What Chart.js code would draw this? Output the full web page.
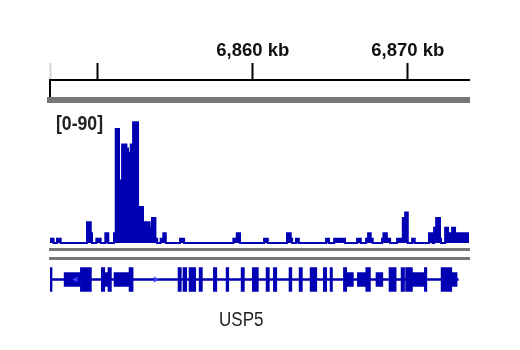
<!DOCTYPE html>
<html>
<head>
<meta charset="utf-8">
<script src="https://cdn.jsdelivr.net/npm/chart.js@4"></script>
<style>
  html, body { margin: 0; padding: 0; background: #fff; }
  #wrap { position: relative; width: 520px; height: 350px; overflow: hidden; }
  canvas { position: absolute; left: 0; }
  #ruler { top: 0; }
  #signal { top: 104px; }
  #gene { top: 250px; }
</style>
</head>
<body>
<div id="wrap">
  <canvas id="ruler" width="520" height="104"></canvas>
  <canvas id="signal" width="520" height="150"></canvas>
  <canvas id="gene" width="520" height="100"></canvas>
</div>
<script>
// visible window, kb
const xMin = 6846.92;
const xMax = 6873.95;

const rulerTicks = [6850, 6860, 6870];
const rulerLabels = ["", "6,860 kb", "6,870 kb"];

// coverage track, data range 0-90
const rangeLabel = "[0-90]";
const dataMax = 90;
const sigStart = [6846.92, 6847.37, 6849.31, 6849.55, 6849.91, 6850.49, 6851.05, 6851.16, 6851.37, 6851.57,
                  6851.85, 6851.95, 6852.13, 6852.28, 6852.60, 6852.71, 6852.92, 6853.35, 6853.50, 6853.72,
                  6854.06, 6854.23, 6855.31, 6858.75, 6858.97, 6860.73, 6862.21, 6862.45, 6862.79, 6864.73,
                  6865.25, 6866.73, 6867.31, 6867.44, 6867.61, 6868.34, 6868.43, 6868.65, 6869.31, 6869.68,
                  6869.83, 6870.28, 6871.37, 6871.70, 6871.83, 6872.08, 6872.41, 6872.60, 6872.86, 6873.05,
                  6873.44, 6873.52];
const sigEnd   = [6847.15, 6847.61, 6849.55, 6849.63, 6850.19, 6850.68, 6851.16, 6851.37, 6851.57, 6851.85,
                  6851.95, 6852.13, 6852.28, 6852.60, 6852.71, 6852.92, 6853.35, 6853.50, 6853.72, 6853.83,
                  6854.23, 6854.39, 6855.57, 6858.97, 6859.18, 6860.97, 6862.45, 6862.54, 6862.97, 6864.92,
                  6865.95, 6866.97, 6867.44, 6867.61, 6867.74, 6868.43, 6868.65, 6868.86, 6869.68, 6869.83,
                  6870.00, 6870.45, 6871.61, 6871.83, 6872.08, 6872.15, 6872.60, 6872.86, 6873.05, 6873.44,
                  6873.52, 6873.95];
const sigValue = [3, 3, 15, 7, 3, 7, 7, 82, 45, 71,
                  68, 65, 71, 87, 22, 26, 15, 11, 18, 3,
                  3, 7, 3, 3, 7, 3, 7, 3, 3, 3,
                  3, 3, 3, 7, 3, 3, 7, 3, 3, 18,
                  22, 3, 7, 11, 18, 3, 11, 7, 11, 7,
                  3, 7];

// gene model
const geneName = "USP5";
const geneEnd = 6873.26;
const nameAt = 6859.26;
const cdsStart = [6846.92, 6848.88, 6850.23, 6850.66, 6852.02, 6855.18, 6855.50, 6855.89, 6856.54, 6857.46,
                  6858.28, 6859.25, 6859.97, 6860.86, 6861.33, 6862.34, 6862.99, 6863.70, 6864.55, 6864.99,
                  6865.85, 6867.29, 6868.79, 6869.57, 6869.86, 6871.07, 6872.15];
const cdsEnd   = [6847.05, 6849.59, 6850.45, 6850.88, 6852.28, 6855.39, 6855.74, 6856.32, 6856.75, 6857.68,
                  6858.45, 6859.46, 6860.36, 6861.07, 6861.55, 6862.52, 6863.20, 6864.13, 6864.77, 6865.14,
                  6866.06, 6867.59, 6869.25, 6869.79, 6870.30, 6871.23, 6872.84];
const utrStart = [6847.83, 6850.45, 6851.05, 6866.06, 6866.75, 6867.95, 6870.30, 6872.84];
const utrEnd   = [6848.88, 6850.66, 6852.02, 6866.49, 6867.29, 6868.39, 6871.07, 6873.18];
const strandAt = [6848.58, 6853.73];
const strandDir = [-90, 90];

const blue = "#0000b2";
const sepGray = "#777777";
const sans = '"Liberation Sans", Arial, sans-serif';

Chart.defaults.font.family = sans;
const quiet = { legend: { display: false }, tooltip: { enabled: false } };
const flatAxis = (pos, width) => ({
    type: "linear", display: true, position: pos, min: xMin, max: xMax, offset: false,
    ticks: { display: false },
    grid: { display: false, drawTicks: false },
    border: { color: sepGray, width: width },
    afterFit: (s) => { s.height = 0; }
});

// condensed label text, drawn squeezed horizontally
function narrowText(ctx, text, x, y, font, squeeze, align) {
    ctx.save();
    ctx.font = font;
    ctx.fillStyle = "#222";
    ctx.textAlign = align;
    ctx.textBaseline = "alphabetic";
    ctx.translate(x, y);
    ctx.scale(squeeze, 1);
    ctx.fillText(text, 0, 0);
    ctx.restore();
}

// ruler
new Chart(document.getElementById("ruler"), {
    type: "line",
    data: { datasets: [] },
    options: {
        responsive: false,
        animation: false,
        layout: { padding: { left: 50, right: 51, top: 0, bottom: 4 } },
        plugins: quiet,
        scales: {
            x: {
                type: "linear", position: "top", min: xMin, max: xMax,
                afterBuildTicks: (s) => { s.ticks = [xMin, ...rulerTicks].map((v) => ({ value: v })); },
                afterFit: (s) => { s.height = 80; },
                ticks: {
                    autoSkip: false, maxRotation: 0, padding: 1, color: "#111",
                    font: { family: sans, size: 18.5, weight: "bold" },
                    callback: (v) => { const i = rulerTicks.indexOf(v); return i < 0 ? "" : rulerLabels[i]; }
                },
                grid: {
                    drawOnChartArea: false, tickLength: 17, tickWidth: 2,
                    tickColor: (c) => (c.tick && c.tick.value < rulerTicks[0] ? "#d2d2da" : "#000")
                },
                border: { color: "#000", width: 2 }
            },
            xb: flatAxis("bottom", 6),
            y: {
                display: true, position: "left", min: 0, max: 1,
                ticks: { display: false },
                grid: { display: false, drawTicks: false },
                border: { color: "#000", width: 2, z: -1 },
                afterFit: (s) => { s.width = 0; }
            }
        }
    }
});

// coverage
const sigPoints = [{ x: xMin, y: 0 }];
sigStart.forEach((s, i) => {
    sigPoints.push({ x: s, y: sigValue[i] });
    if (i === sigStart.length - 1 || sigStart[i + 1] !== sigEnd[i]) {
        sigPoints.push({ x: sigEnd[i], y: 0 });
    }
});
sigPoints.push({ x: xMax, y: 0 });

new Chart(document.getElementById("signal"), {
    type: "line",
    data: {
        datasets: [{
            data: sigPoints,
            stepped: "before",
            borderColor: blue,
            backgroundColor: blue,
            borderWidth: 2,
            fill: "origin",
            pointRadius: 0
        }]
    },
    options: {
        responsive: false,
        animation: false,
        layout: { padding: { left: 50, right: 51, top: 14, bottom: 4.5 } },
        plugins: quiet,
        scales: {
            x: flatAxis("bottom", 3),
            y: { display: false, min: -4.68, max: dataMax }
        }
    },
    plugins: [{
        id: "rangeLabel",
        afterDraw(c) {
            narrowText(c.ctx, rangeLabel, c.chartArea.left + 6, 26, "bold 21px " + sans, 0.84, "left");
        }
    }]
});

// gene track
const block = (starts, ends, h) => ({
    type: "bar", indexAxis: "y", grouped: false, barThickness: h,
    backgroundColor: blue, borderWidth: 0,
    data: starts.map((s, i) => ({ x: [s, ends[i]], y: "gene" }))
});

new Chart(document.getElementById("gene"), {
    type: "bar",
    data: {
        labels: ["gene"],
        datasets: [
            {
                type: "scatter",
                data: strandAt.map((v) => ({ x: v, y: "gene" })),
                pointStyle: "triangle", pointRotation: strandDir, pointRadius: 3.5,
                pointBackgroundColor: "#3c3cff", pointBorderWidth: 0
            },
            block(cdsStart, cdsEnd, 24),
            block(utrStart, utrEnd, 14),
            block([xMin], [geneEnd], 2)
        ]
    },
    options: {
        responsive: false,
        animation: false,
        layout: { padding: { left: 50, right: 51, top: 8.5, bottom: 49.5 } },
        plugins: quiet,
        scales: {
            x: flatAxis("top", 3),
            y: { type: "category", labels: ["gene"], display: false, offset: true }
        }
    },
    plugins: [{
        id: "geneName",
        afterDraw(c) {
            narrowText(c.ctx, geneName, c.scales.x.getPixelForValue(nameAt), 75.7, "20.5px " + sans, 0.83, "center");
        }
    }]
});
</script>
</body>
</html>
